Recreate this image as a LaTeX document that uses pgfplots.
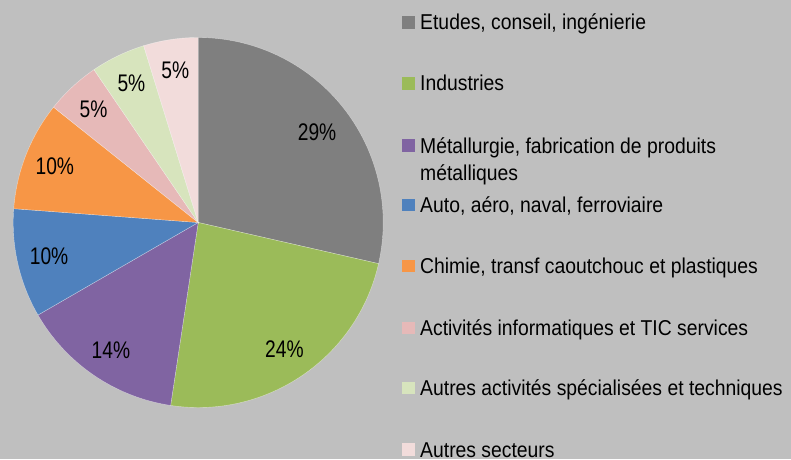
\documentclass[border=0pt]{standalone}
\usepackage{pgfplots}
\pgfplotsset{compat=1.18}
\usepackage{pgfplotstable}
\usepackage{fontspec}
\setmainfont{Liberation Sans}[FakeStretch=0.9]
\newfontfamily\lblfont{Liberation Sans}[FakeStretch=0.8]

\definecolor{bg}{HTML}{BFBFBF}
\definecolor{s1}{HTML}{7F7F7F}
\definecolor{s2}{HTML}{9BBB59}
\definecolor{s3}{HTML}{8064A2}
\definecolor{s4}{HTML}{4F81BD}
\definecolor{s5}{HTML}{F79646}
\definecolor{s6}{HTML}{E6B9B8}
\definecolor{s7}{HTML}{D7E4BD}
\definecolor{s8}{HTML}{F2DCDB}

% effectifs par secteur, dans l'ordre du camembert (sens horaire depuis midi)
% lr = distance de l'etiquette au centre, ls = petit decalage d'angle
\pgfplotstableread{
value color lr ls
60 s1 149 -1.5
50 s2 153 0
30 s3 155 0
20 s4 153 0
20 s5 154 0
10 s6 154 0
10 s7 154 0
10 s8 154 0
}\piedata

\tikzset{
  lbl/.style={font=\lblfont\fontsize{24}{28}\selectfont, inner sep=0pt},
  leg/.style={font=\fontsize{21.5}{28}\selectfont, anchor=base west, inner sep=0pt},
}
\newcommand\legentry[3]{%
  \fill[#1] (402pt,{#2pt-6.2pt}) rectangle (414.5pt,{#2pt+6.2pt});
  \node[leg] at (420pt,{#2pt-7.5pt}) {#3};}

\begin{document}
\begin{tikzpicture}
\useasboundingbox (0,0) rectangle (791pt,459pt);
\fill[bg] (0,0) rectangle (791pt,459pt);
\clip (0,0) rectangle (791pt,459pt);

\def\total{0}
\pgfplotsforeachungrouped \i in {0,...,7}{%
  \pgfplotstablegetelem{\i}{value}\of\piedata
  \pgfmathsetmacro\total{\total+\pgfplotsretval}}

\begin{axis}[
    at={(0,0)}, anchor=south west,
    x=1pt, y=1pt,
    xmin=0, xmax=791, ymin=0, ymax=459,
    hide axis, clip=false,
]
\def\cum{0}
\pgfplotsforeachungrouped \i in {0,...,7}{%
  \pgfplotstablegetelem{\i}{value}\of\piedata \let\sv\pgfplotsretval
  \pgfplotstablegetelem{\i}{color}\of\piedata \let\scol\pgfplotsretval
  \pgfplotstablegetelem{\i}{lr}\of\piedata \let\slr\pgfplotsretval
  \pgfplotstablegetelem{\i}{ls}\of\piedata \let\sls\pgfplotsretval
  \pgfmathsetmacro\sa{90-360*(\cum/\total)}
  \pgfmathsetmacro\sb{90-360*((\cum+\sv)/\total)}
  \pgfmathsetmacro\sm{(\sa+\sb)/2+\sls}
  \pgfmathtruncatemacro\pct{round(100*(\sv/\total))}
  \edef\temp{%
    \noexpand\fill[\scol, draw=white, draw opacity=0.5, line width=0.4pt]
      (axis cs:198.2,236.5) -- ++(\sa:185pt)
      arc[start angle=\sa, end angle=\sb, radius=185pt] -- cycle;
    \noexpand\path (axis cs:198.2,236.5) ++(\sm:\slr pt) node[lbl] {\pct\noexpand\%};
  }\temp
  \pgfmathsetmacro\cum{\cum+\sv}}
\end{axis}

% légende
\legentry{s1}{436.5}{Etudes, conseil, ingénierie}
\legentry{s2}{375.7}{Industries}
\legentry{s3}{313.5}{Métallurgie, fabrication de produits}
\node[leg] at (420pt,279pt) {métalliques};
\legentry{s4}{253.8}{Auto, aéro, naval, ferroviaire}
\legentry{s5}{193.2}{Chimie, transf caoutchouc et plastiques}
\legentry{s6}{131.2}{Activités informatiques et TIC services}
\legentry{s7}{71.2}{Autres activités spécialisées et techniques}
\legentry{s8}{9.5}{Autres secteurs}
\end{tikzpicture}
\end{document}
